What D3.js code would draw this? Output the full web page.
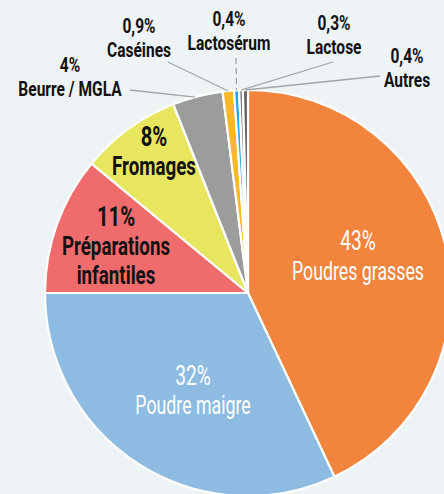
<!DOCTYPE html>
<html><head><meta charset="utf-8">
<script src="https://cdn.jsdelivr.net/npm/d3@7"></script>
<style>
html,body{margin:0;padding:0;background:#eef3f6;}
svg{display:block;}
text{font-family:Roboto,"Noto Sans",sans-serif;}
</style></head>
<body>
<svg id="c" width="444" height="494"></svg>
<script>
// Data
const categories = ["Poudres grasses","Poudre maigre","Préparations infantiles","Fromages","Beurre / MGLA","Caséines","Lactosérum","Lactose","Autres"];
const values = [43, 32, 11, 8, 4, 0.9, 0.4, 0.3, 0.4];
const valueLabels = ["43%","32%","11%","8%","4%","0,9%","0,4%","0,3%","0,4%"];
const labelLines = [["Poudres grasses"],["Poudre maigre"],["Préparations","infantiles"],["Fromages"],["Beurre / MGLA"],["Caséines"],["Lactosérum"],["Lactose"],["Autres"]];
const colors = ["#f2843e","#8dbbe1","#f06c6c","#e8e65f","#9b9d9d","#f9b72a","#2aa8e0","#7b7e80","#5d6164"];

// Layout (positions, not data)
const cx = 248, cy = 293, R = 203;
const inside = [
  {x:358, y:250, dy:30, fill:"#fff", size:25, sx:0.71, weight:"400"},
  {x:193, y:385, dy:29, fill:"#fff", size:25, sx:0.71, weight:"400"},
  {x:116, y:226, dy:29, fill:"#111", size:25, sx:0.75, weight:"700"},
  {x:154, y:146, dy:29, fill:"#111", size:25, sx:0.75, weight:"700"}
];
const outside = [
  null,null,null,null,
  {x:70,  y:72, lx:130, ly:90, t:0.45, dash:false},
  {x:139, y:33, lx:168, ly:62, t:0.5, dash:false},
  {x:229, y:26, lx:236, ly:58, t:0.5, dash:true},
  {x:334, y:30, lx:333, ly:62, t:0.5, dash:false},
  {x:407, y:63, lx:380, ly:76, t:0.5, dash:false}
];

const svg = d3.select("#c");
const g = svg.append("g").attr("transform",`translate(${cx},${cy})`);
const pie = d3.pie().sort(null).value(d=>d)(values);
const arc = d3.arc().innerRadius(0).outerRadius(R);

g.selectAll("path").data(pie).join("path")
  .attr("d",arc).attr("fill",(d,i)=>colors[i])
  .attr("stroke","#fff").attr("stroke-width",2.2).attr("stroke-linejoin","round");

function label(x, y, lines, dy, size, sx, weight, fill, pctScale){
  const t = svg.append("text").attr("text-anchor","middle").attr("fill",fill)
    .attr("font-size",size).attr("font-weight",weight)
    .attr("transform",`translate(${x},${y}) scale(${sx},1)`);
  lines.forEach((s,k)=>{
    const ts = t.append("tspan").attr("x",0).attr("y",dy*k).text(s);
    if(k===0) ts.attr("font-size",size*pctScale);
  });
}

inside.forEach((L,i)=>{
  label(L.x, L.y, [valueLabels[i], ...labelLines[i]], L.dy, L.size, L.sx, L.weight, L.fill, 1.08);
});

outside.forEach((L,i)=>{
  if(!L) return;
  const p = pie[i];
  const a = p.startAngle + (p.endAngle-p.startAngle)*L.t;
  const ex = cx + R*Math.sin(a), ey = cy - R*Math.cos(a);
  svg.append("line").attr("x1",L.lx).attr("y1",L.ly).attr("x2",ex).attr("y2",ey)
    .attr("stroke","#a3a6a8").attr("stroke-width",1.3)
    .attr("stroke-dasharray",L.dash?"6,4":null);
  label(L.x, L.y, [valueLabels[i], labelLines[i][0]], 24, 21, 0.74, "700", "#111", 1);
});
</script>
</body></html>
